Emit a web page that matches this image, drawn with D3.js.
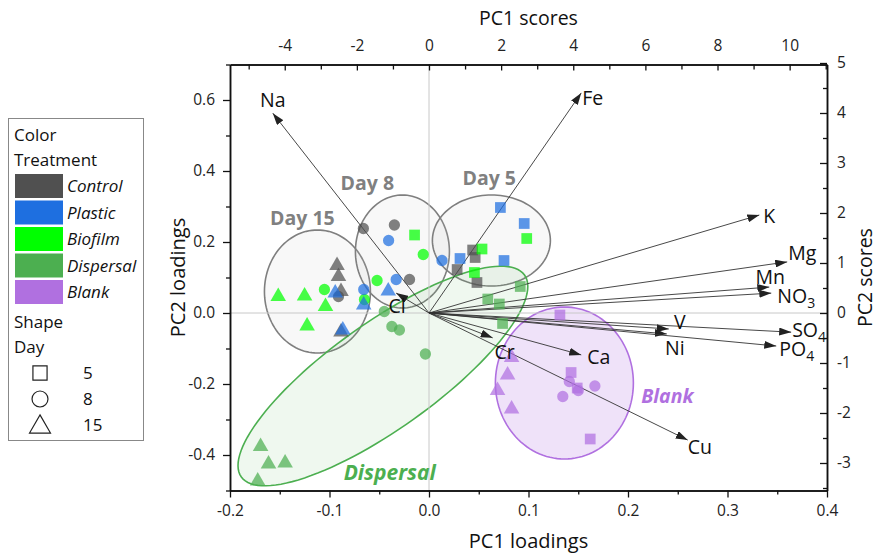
<!DOCTYPE html>
<html>
<head>
<meta charset="utf-8">
<title>PCA biplot</title>
<script src="https://cdn.jsdelivr.net/npm/d3@7"></script>
<style>
  body { margin: 0; background: #fff; }
  text { font-family: "Open Sans", "Noto Sans", sans-serif; fill: #111; }
</style>
</head>
<body>
<svg id="chart" width="877" height="553"></svg>
<script>
// ---- data ----
var treatments = ["Control", "Plastic", "Biofilm", "Dispersal", "Blank"];
var treatmentColors = ["#505050", "#1e6fe0", "#00ff00", "#4caf50", "#b070e0"];
var days = [5, 8, 15];

// PC scores per sample: [day, PC1, PC2]
var controlPts = [
  [5, 1.21, 1.26], [5, 1.28, 1.11], [5, 0.78, 0.87], [5, 1.33, 0.61],
  [8, -1.82, 1.69], [8, -0.96, 1.76], [8, -0.54, 0.67], [8, -2.51, 0.33],
  [15, -2.55, 0.98], [15, -2.51, 0.76], [15, -2.44, 0.46], [15, -2.44, -0.35]
];
var plasticPts = [
  [5, 1.98, 2.11], [5, 2.64, 1.79], [5, 0.86, 1.09], [5, 2.08, 1.05],
  [8, -1.12, 1.45], [8, -0.91, 0.67], [8, -1.81, 0.47], [8, 0.36, 1.05],
  [15, -2.60, 0.43], [15, -2.39, -0.31], [15, -1.81, 0.19], [15, -1.13, 0.47]
];
var biofilmPts = [
  [5, 2.71, 1.49], [5, 1.47, 1.28], [5, 1.26, 0.81], [5, -0.40, 1.56],
  [8, -2.90, 0.47], [8, -1.44, 0.65], [8, -1.79, 0.27], [8, -0.16, 1.17],
  [15, -4.18, 0.36], [15, -3.45, 0.37], [15, -2.87, 0.16], [15, -3.38, -0.23]
];
var dispersalPts = [
  [5, 1.63, 0.28], [5, 1.95, 0.18], [5, 2.04, -0.21], [5, 2.53, 0.53],
  [8, -1.24, 0.03], [8, -1.03, -0.27], [8, -0.82, -0.34], [8, -0.10, -0.82],
  [15, -4.67, -2.64], [15, -4.45, -2.99], [15, -3.99, -2.97], [15, -4.75, -3.33]
];
var blankPts = [
  [5, 3.63, -0.04], [5, 3.94, -1.19], [5, 4.11, -1.50], [5, 4.47, -2.52],
  [8, 3.89, -1.37], [8, 4.14, -1.55], [8, 4.60, -1.46], [8, 3.71, -1.67],
  [15, 2.29, -0.86], [15, 2.18, -1.21], [15, 1.90, -1.52], [15, 2.29, -1.89]
];

// loadings
var variables = ["Na", "Fe", "K", "Mg", "Mn", "NO3", "V", "Ni", "SO4", "PO4", "Ca", "Cu", "Cr", "Cl"];
var loadPC1 = [-0.157, 0.153, 0.332, 0.360, 0.342, 0.344, 0.241, 0.239, 0.364, 0.349, 0.153, 0.260, 0.064, -0.033];
var loadPC2 = [0.563, 0.620, 0.276, 0.144, 0.073, 0.056, -0.045, -0.059, -0.054, -0.093, -0.118, -0.358, -0.070, 0.056];

// grouping ellipses (score units): [cx, cy, axisA_x, axisA_y, axisB_x, axisB_y]
var ellipseNames = ["Day 15", "Day 8", "Day 5", "Dispersal", "Blank"];
var ellipseParams = [
  [-3.094, 0.43, 1.469, 0, 0, 1.23],
  [-0.737, 1.23, 1.303, 0, 0, 1.13],
  [1.730, 1.45, 1.636, 0, 0, 0.91],
  [-1.278, -1.26, 3.926, 2.02, 0.854, -0.862],
  [3.754, -1.40, 1.913, 0, 0, 1.52]
];

// tick values
var pc1LoadTicks = [-0.2, -0.1, 0, 0.1, 0.2, 0.3, 0.4];
var pc2LoadTicks = [-0.4, -0.2, 0, 0.2, 0.4, 0.6];
var pc1ScoreTicks = [-4, -2, 0, 2, 4, 6, 8, 10];
var pc2ScoreTicks = [-3, -2, -1, 0, 1, 2, 3, 4, 5];

// ---- layout ----
var svg = d3.select("#chart");
var L = 230, R = 827, T = 64.5, B = 490.5;
var kx = 27.59, ky = 7.1; // score / loading ratio of the twin axes

var xL = d3.scaleLinear().domain([-0.2, 0.4]).range([L, R]);
var yL = d3.scaleLinear().domain([-0.5, 0.7]).range([B, T]);
var xS = d3.scaleLinear().domain([-0.2 * kx, 0.4 * kx]).range([L, R]);
var yS = d3.scaleLinear().domain([-0.5 * ky, 0.7 * ky]).range([B, T]);

var minus = function (f) { return function (d) { return f(d).replace("\u2212", "-"); }; };

// ellipses
var ellStroke = ["#7f7f7f", "#7f7f7f", "#7f7f7f", "#4caf50", "#b070e0"];
var ellFill = ["#c8c8c8", "#c8c8c8", "#c8c8c8", "#4caf50", "#b070e0"];
var ellOpacity = [0.12, 0.12, 0.12, 0.09, 0.2];
var ellLine = d3.line().x(function (p) { return xS(p[0]); }).y(function (p) { return yS(p[1]); });
ellipseParams.forEach(function (e, i) {
  var pts = d3.range(0, 361, 3).map(function (a) {
    var t = a * Math.PI / 180;
    return [e[0] + e[2] * Math.cos(t) + e[4] * Math.sin(t), e[1] + e[3] * Math.cos(t) + e[5] * Math.sin(t)];
  });
  svg.append("path").attr("d", ellLine(pts) + "Z")
    .attr("fill", ellFill[i]).attr("fill-opacity", ellOpacity[i])
    .attr("stroke", ellStroke[i]).attr("stroke-width", 1.6);
});

// zero lines
svg.append("line").attr("x1", xL(0)).attr("x2", xL(0)).attr("y1", T).attr("y2", B)
  .attr("stroke", "#c8c8c8").attr("stroke-width", 1);
svg.append("line").attr("x1", L).attr("x2", R).attr("y1", yL(0)).attr("y2", yL(0))
  .attr("stroke", "#c8c8c8").attr("stroke-width", 1);

// arrows
svg.append("defs").append("marker").attr("id", "arr")
  .attr("viewBox", "0 0 12 8").attr("refX", 12).attr("refY", 4)
  .attr("markerWidth", 12).attr("markerHeight", 8).attr("markerUnits", "userSpaceOnUse")
  .attr("orient", "auto")
  .append("path").attr("d", "M0,0 L12,4 L0,8 Z").attr("fill", "#222");

variables.forEach(function (v, i) {
  svg.append("line")
    .attr("x1", xL(0)).attr("y1", yL(0))
    .attr("x2", xL(loadPC1[i])).attr("y2", yL(loadPC2[i]))
    .attr("stroke", "#333").attr("stroke-width", 0.9)
    .attr("marker-end", "url(#arr)");
});

// points
var symbolFor = { 5: d3.symbolSquare, 8: d3.symbolCircle, 15: d3.symbolTriangle };
var sizeFor = { 5: 115, 8: 100, 15: 105 };
var drawOrder = [[controlPts, 0], [biofilmPts, 2], [plasticPts, 1], [dispersalPts, 3], [blankPts, 4]];
drawOrder.forEach(function (g) {
  svg.append("g").selectAll("path").data(g[0]).enter().append("path")
    .attr("d", function (d) { return d3.symbol().type(symbolFor[d[0]]).size(sizeFor[d[0]])(); })
    .attr("transform", function (d) {
      var dy = d[0] === 15 ? 1.5 : 0;
      return "translate(" + xS(d[1]) + "," + (yS(d[2]) + dy) + ")";
    })
    .attr("fill", treatmentColors[g[1]]).attr("fill-opacity", 0.72);
});

// variable labels (offsets from the arrow tip, px)
var labelNudge = {
  Na: [0, -13, "middle"], Fe: [1, 5, "start"], K: [4, 1, "start"], Mg: [1, -9, "start"],
  Mn: [1, -10, "middle"], NO3: [6, 3, "start"], V: [11, -7, "middle"], Ni: [8, 14, "middle"],
  SO4: [1, -2, "start"], PO4: [3, 3, "start"], Ca: [6, 2, "start"], Cu: [0, 7, "start"],
  Cr: [12, 14, "middle"], Cl: [1, 13, "middle"]
};
variables.forEach(function (v, i) {
  var n = labelNudge[v];
  var t = svg.append("text")
    .attr("x", xL(loadPC1[i]) + n[0]).attr("y", yL(loadPC2[i]) + n[1])
    .attr("dy", "0.36em").attr("text-anchor", n[2])
    .style("font-size", "19.5px");
  var m = v.match(/^([A-Za-z]+)(\d*)$/);
  t.append("tspan").text(m[1]);
  if (m[2]) t.append("tspan").attr("dy", "0.35em").style("font-size", "14px").text(m[2]);
});

// group labels (score units)
var groupLabels = ["Day 15", "Day 8", "Day 5", "Dispersal", "Blank"];
var groupLabelAt = [[-3.51, 1.90], [-1.71, 2.60], [1.67, 2.70], [-1.09, -3.18], [6.61, -1.66]];
var groupLabelColor = ["#808080", "#808080", "#808080", "#4caf50", "#b070e0"];
groupLabels.forEach(function (g, i) {
  svg.append("text").text(g)
    .attr("x", xS(groupLabelAt[i][0])).attr("y", yS(groupLabelAt[i][1]))
    .attr("dy", "0.36em").attr("text-anchor", "middle")
    .style("font-size", i === 3 ? "21px" : "19.5px").style("font-weight", "bold")
    .style("font-style", i >= 3 ? "italic" : "normal")
    .style("fill", groupLabelColor[i]);
});

// ---- axes ----
function styleAxis(g) {
  g.selectAll("path.domain").attr("stroke", "#111").attr("stroke-width", 1.5);
  g.selectAll(".tick line").attr("stroke", "#111").attr("stroke-width", 1.3);
  g.selectAll("text").style("font-size", "15.5px").style("fill", "#222")
    .style("font-family", "'Open Sans', 'Noto Sans', sans-serif");
}

// bottom
svg.append("g").attr("transform", "translate(0," + B + ")")
  .call(d3.axisBottom(xL).tickValues(d3.range(-0.15, 0.4, 0.1)).tickSize(4).tickFormat("").tickSizeOuter(0))
  .call(styleAxis);
svg.append("g").attr("transform", "translate(0," + B + ")")
  .call(d3.axisBottom(xL).tickValues(pc1LoadTicks).tickSize(7).tickPadding(7).tickSizeOuter(0)
    .tickFormat(minus(d3.format(".1f"))))
  .call(styleAxis);
// left
svg.append("g").attr("transform", "translate(" + L + ",0)")
  .call(d3.axisLeft(yL).tickValues([-0.5, -0.3, -0.1, 0.1, 0.3, 0.5, 0.7]).tickSize(4).tickFormat("").tickSizeOuter(0))
  .call(styleAxis);
svg.append("g").attr("transform", "translate(" + L + ",0)")
  .call(d3.axisLeft(yL).tickValues(pc2LoadTicks).tickSize(7).tickPadding(8).tickSizeOuter(0)
    .tickFormat(minus(d3.format(".1f"))))
  .call(styleAxis);
// top (ticks inward)
svg.append("g").attr("transform", "translate(0," + T + ")")
  .call(d3.axisTop(xS).tickValues([-5, -3, -1, 1, 3, 5, 7, 9, 11]).tickSize(-5).tickFormat("").tickSizeOuter(0))
  .call(styleAxis);
svg.append("g").attr("transform", "translate(0," + T + ")")
  .call(d3.axisTop(xS).tickValues(pc1ScoreTicks).tickSize(-6).tickPadding(14).tickSizeOuter(0)
    .tickFormat(minus(d3.format("d"))))
  .call(styleAxis);
// right (ticks inward)
svg.append("g").attr("transform", "translate(" + R + ",0)")
  .call(d3.axisRight(yS).tickValues([-3.5, -2.5, -1.5, -0.5, 0.5, 1.5, 2.5, 3.5, 4.5]).tickSize(-4).tickFormat("").tickSizeOuter(0))
  .call(styleAxis);
svg.append("g").attr("transform", "translate(" + R + ",0)")
  .call(d3.axisRight(yS).tickValues(pc2ScoreTicks).tickSize(-7).tickPadding(10).tickSizeOuter(0)
    .tickFormat(minus(d3.format("d"))))
  .call(styleAxis);

// axis titles
svg.append("text").text("PC1 loadings").attr("x", (L + R) / 2).attr("y", 541)
  .attr("dy", "0.36em").attr("text-anchor", "middle").style("font-size", "20px");
svg.append("text").text("PC1 scores").attr("x", (L + R) / 2).attr("y", 18)
  .attr("dy", "0.36em").attr("text-anchor", "middle").style("font-size", "19.5px");
svg.append("text").text("PC2 loadings")
  .attr("transform", "translate(178," + (T + B) / 2 + ") rotate(-90)")
  .attr("dy", "0.36em").attr("text-anchor", "middle").style("font-size", "20px");
svg.append("text").text("PC2 scores")
  .attr("transform", "translate(865," + (T + B) / 2 + ") rotate(-90)")
  .attr("dy", "0.36em").attr("text-anchor", "middle").style("font-size", "19.5px");

// ---- legend ----
var lg = svg.append("g");
lg.append("rect").attr("x", 8.5).attr("y", 118.5).attr("width", 135).attr("height", 322)
  .attr("fill", "#fff").attr("stroke", "#888").attr("stroke-width", 1);
var lgText = function (s, x, y, italic) {
  lg.append("text").text(s).attr("x", x).attr("y", y).attr("dy", "0.36em")
    .style("font-size", "17px").style("font-style", italic ? "italic" : "normal");
};
lgText("Color", 14, 135);
lgText("Treatment", 14, 160);
treatments.forEach(function (t, i) {
  lg.append("rect").attr("x", 15).attr("y", 174 + i * 26.5).attr("width", 48).attr("height", 24)
    .attr("fill", treatmentColors[i]);
  lgText(t, 67, 186 + i * 26.5, true);
});
lgText("Shape", 14, 322);
lgText("Day", 14, 347);
days.forEach(function (d, i) {
  var cy = 373 + i * 26;
  lg.append("path").attr("d", d3.symbol().type(symbolFor[d]).size(d === 15 ? 190 : 200)())
    .attr("transform", "translate(40," + (cy + (d === 15 ? 2 : 0)) + ")")
    .attr("fill", "none").attr("stroke", "#222").attr("stroke-width", 1.2);
  lgText(String(d), 83, cy, false);
});
</script>
</body>
</html>
